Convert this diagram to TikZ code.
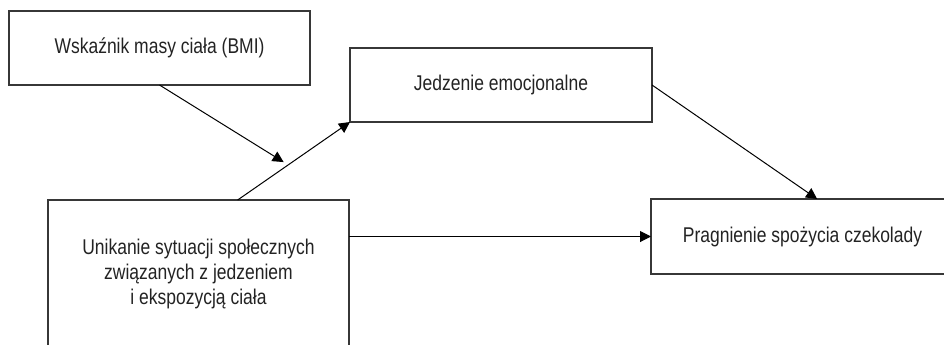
\documentclass[tikz,border=0pt]{standalone}
\usepackage{fontspec}
\setmainfont{Liberation Sans}[FakeStretch=0.82]
\usetikzlibrary{arrows.meta,calc}
\definecolor{boxline}{RGB}{55,55,55}
\definecolor{txt}{RGB}{35,35,35}
\tikzset{
    varbox/.style={draw=boxline, line width=1pt, inner sep=0pt, outer sep=0pt, align=center, text=txt, font=\fontsize{16}{18.4}\selectfont},
    path/.style={line width=0.75pt, -{Triangle[length=8.25pt,width=8.25pt]}},
}
\begin{document}
\begin{tikzpicture}[x=0.75pt,y=0.75pt,yscale=-1,xscale=1]
        \useasboundingbox (0,0) rectangle (944,344);
        \clip (0,0) rectangle (944,344);

        % Boxes
        \node [varbox, minimum width=225.75pt, minimum height=55.5pt] (bmi) at (159.5,48) {Wskaźnik masy ciała (BMI)};
        \node [varbox, minimum width=226.5pt, minimum height=55.5pt] (jedz) at (501,85) {Jedzenie emocjonalne};
        \node [varbox, minimum width=225.75pt, minimum height=111pt] (unik) at (198.5,274) {Unikanie sytuacji społecznych\\związanych z jedzeniem\\i ekspozycją ciała};
        \node [varbox, minimum width=227.25pt, minimum height=56.25pt] (prag) at (802.5,236.5) {Pragnienie spożycia czekolady};

        % Paths
        \coordinate (unikTop) at ($(unik.north west)!0.63!(unik.north east)$);
        \draw [path] (unikTop) -- (jedz.south west) coordinate[pos=0.45] (mod);
        \draw [path, shorten >=4pt] (bmi.south) -- (mod);
        \draw [path] (jedz.east) -- ([xshift=11pt]prag.north);
        \draw [path] (prag.west -| unik.east) -- (prag.west);
    \end{tikzpicture}
\end{document}
